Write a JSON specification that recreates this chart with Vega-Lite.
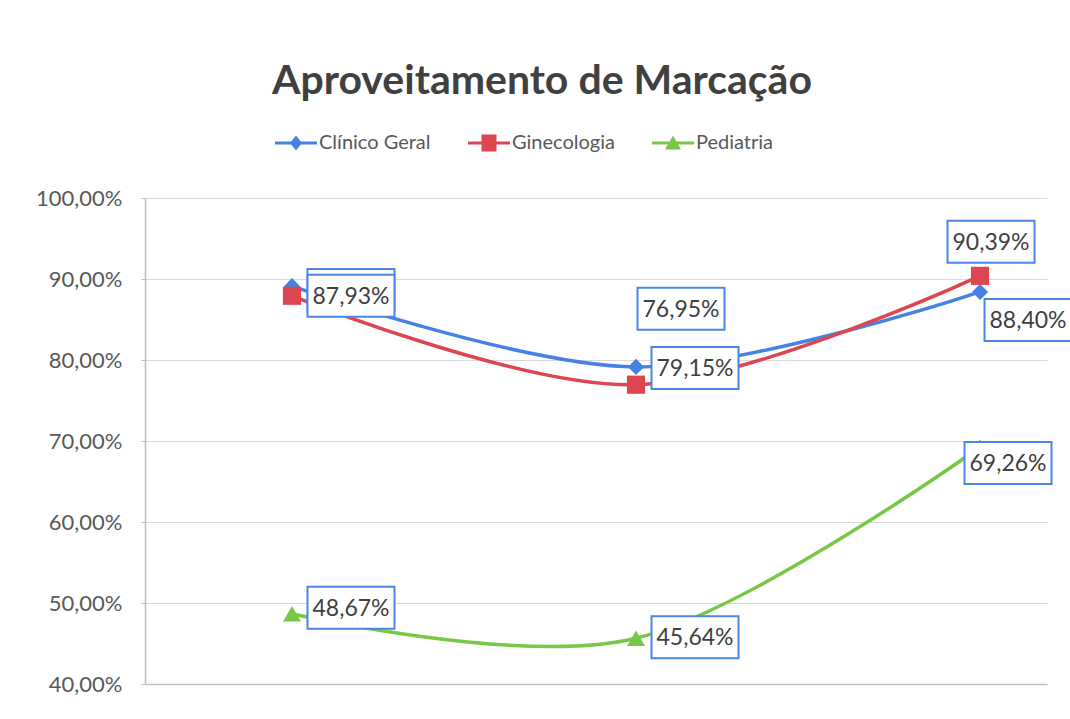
{
  "$schema": "https://vega.github.io/schema/vega-lite/v6.json",
  "autosize": {"type": "none"},
  "width": 902,
  "height": 486,
  "padding": {"left": 145, "top": 198, "right": 23, "bottom": 35},
  "background": "white",
  "title": {
    "text": "Aproveitamento de Marcação",
    "font": "Lato",
    "fontSize": 41,
    "fontWeight": "bold",
    "color": "#404040",
    "anchor": "middle",
    "baseline": "alphabetic",
    "dx": -54,
    "offset": -2
  },
  "config": {
    "locale": {
      "number": {"decimal": ",", "thousands": ".", "grouping": [3], "currency": ["R$", ""]}
    },
    "view": {"stroke": null},
    "font": "Lato"
  },
  "data": {
    "values": [
      {"periodo": "1º", "serie": "Clínico Geral", "valor": 0.8912},
      {"periodo": "2º", "serie": "Clínico Geral", "valor": 0.7915},
      {"periodo": "3º", "serie": "Clínico Geral", "valor": 0.8840},
      {"periodo": "1º", "serie": "Ginecologia", "valor": 0.8793},
      {"periodo": "2º", "serie": "Ginecologia", "valor": 0.7695},
      {"periodo": "3º", "serie": "Ginecologia", "valor": 0.9039},
      {"periodo": "1º", "serie": "Pediatria", "valor": 0.4867},
      {"periodo": "2º", "serie": "Pediatria", "valor": 0.4564},
      {"periodo": "3º", "serie": "Pediatria", "valor": 0.6926}
    ]
  },
  "encoding": {
    "x": {
      "field": "periodo",
      "type": "ordinal",
      "scale": {"type": "point", "padding": 0.311, "align": 0.687},
      "axis": {
        "title": null,
        "labels": false,
        "ticks": false,
        "grid": false,
        "domainColor": "#bfbfbf",
        "domainWidth": 1.5
      }
    },
    "y": {
      "field": "valor",
      "type": "quantitative",
      "scale": {"domain": [0.4, 1.0], "nice": false, "zero": false},
      "axis": {
        "title": null,
        "values": [0.4, 0.5, 0.6, 0.7, 0.8, 0.9, 1.0],
        "format": ".2%",
        "labelFont": "Lato",
        "labelFontSize": 22,
        "labelColor": "#595959",
        "labelPadding": 19,
        "tickSize": 4,
        "tickColor": "#bfbfbf",
        "domainColor": "#bfbfbf",
        "domainWidth": 1.5,
        "gridColor": "#d9d9d9",
        "gridWidth": 1.2
      }
    }
  },
  "layer": [
    {
      "mark": {"type": "line", "interpolate": "cardinal", "strokeWidth": 3.5},
      "encoding": {
        "color": {
          "field": "serie",
          "type": "nominal",
          "scale": {
            "domain": ["Clínico Geral", "Ginecologia", "Pediatria"],
            "range": ["#4682e6", "#db4650", "#78c846"]
          },
          "legend": {
            "title": null,
            "orient": "none",
            "direction": "horizontal",
            "legendX": 130,
            "legendY": -65,
            "padding": 0,
            "symbolSize": 400,
            "symbolOffset": 11,
            "labelOffset": 13,
            "columnPadding": 37,
            "labelFont": "Lato",
            "labelFontSize": 20,
            "labelColor": "#595959",
            "encode": {
              "symbols": {
                "update": {
                  "shape": {"signal": "datum.value === 'Clínico Geral' ? 'M-2.1,-0.16H2.1V0.16H-2.1Z M0,-0.75L0.6,0L0,0.75L-0.6,0Z' : datum.value === 'Ginecologia' ? 'M-2.1,-0.16H2.1V0.16H-2.1Z M-0.75,-0.85H0.75V0.85H-0.75Z' : 'M-2.1,-0.16H2.1V0.16H-2.1Z M0,-0.75L0.8,0.65H-0.8Z'"},
                  "fill": {"signal": "scale('color', datum.value)"},
                  "fillOpacity": {"value": 1},
                  "strokeWidth": {"value": 0}
                }
              }
            }
          }
        }
      }
    },
    {
      "mark": {
        "type": "point",
        "filled": true,
        "opacity": 1,
        "shape": {"expr": "datum.serie === 'Clínico Geral' ? 'diamond' : datum.serie === 'Ginecologia' ? 'square' : 'triangle-up'"},
        "size": {"expr": "datum.serie === 'Clínico Geral' ? 260 : datum.serie === 'Ginecologia' ? 330 : 320"}
      },
      "encoding": {
        "color": {"field": "serie", "type": "nominal", "legend": null}
      }
    },
    {
      "transform": [{"filter": "datum.serie === 'Clínico Geral'"}],
      "mark": {
        "type": "point",
        "shape": "M-1,-0.483H1V0.483H-1Z",
        "size": 7569,
        "filled": false,
        "fill": "white",
        "fillOpacity": 1,
        "stroke": "#4a86e8",
        "strokeWidth": 2,
        "opacity": 1,
        "xOffset": {"expr": "datum.periodo === '3º' ? 48 : 59"},
        "yOffset": {"expr": "datum.periodo === '1º' ? 4 : datum.periodo === '2º' ? 1 : 28"}
      },
      "encoding": {}
    },
    {
      "transform": [{"filter": "datum.serie === 'Clínico Geral' && datum.periodo !== '1º'"}],
      "mark": {
        "type": "text",
        "font": "Lato",
        "fontSize": 23,
        "color": "#404040",
        "align": "center",
        "baseline": "middle",
        "xOffset": {"expr": "datum.periodo === '3º' ? 48 : 59"},
        "yOffset": {"expr": "datum.periodo === '2º' ? 2 : 29"}
      },
      "encoding": {"text": {"field": "valor", "type": "quantitative", "format": ".2%"}}
    },
    {
      "transform": [{"filter": "datum.serie === 'Ginecologia'"}],
      "mark": {
        "type": "point",
        "shape": "M-1,-0.483H1V0.483H-1Z",
        "size": 7569,
        "filled": false,
        "fill": "white",
        "fillOpacity": 1,
        "stroke": "#4a86e8",
        "strokeWidth": 2,
        "opacity": 1,
        "xOffset": {"expr": "datum.periodo === '1º' ? 59 : datum.periodo === '2º' ? 45 : 11"},
        "yOffset": {"expr": "datum.periodo === '1º' ? 0 : datum.periodo === '2º' ? -76 : -34"}
      },
      "encoding": {}
    },
    {
      "transform": [{"filter": "datum.serie === 'Ginecologia'"}],
      "mark": {
        "type": "text",
        "font": "Lato",
        "fontSize": 23,
        "color": "#404040",
        "align": "center",
        "baseline": "middle",
        "xOffset": {"expr": "datum.periodo === '1º' ? 59 : datum.periodo === '2º' ? 45 : 11"},
        "yOffset": {"expr": "datum.periodo === '1º' ? 1 : datum.periodo === '2º' ? -75 : -33"}
      },
      "encoding": {"text": {"field": "valor", "type": "quantitative", "format": ".2%"}}
    },
    {
      "transform": [{"filter": "datum.serie === 'Pediatria'"}],
      "mark": {
        "type": "point",
        "shape": "M-1,-0.483H1V0.483H-1Z",
        "size": 7569,
        "filled": false,
        "fill": "white",
        "fillOpacity": 1,
        "stroke": "#4a86e8",
        "strokeWidth": 2,
        "opacity": 1,
        "xOffset": {"expr": "datum.periodo === '3º' ? 28 : 59"},
        "yOffset": {"expr": "datum.periodo === '1º' ? -6 : datum.periodo === '2º' ? -1 : 16"}
      },
      "encoding": {}
    },
    {
      "transform": [{"filter": "datum.serie === 'Pediatria'"}],
      "mark": {
        "type": "text",
        "font": "Lato",
        "fontSize": 23,
        "color": "#404040",
        "align": "center",
        "baseline": "middle",
        "xOffset": {"expr": "datum.periodo === '3º' ? 28 : 59"},
        "yOffset": {"expr": "datum.periodo === '1º' ? -5 : datum.periodo === '2º' ? 0 : 17"}
      },
      "encoding": {"text": {"field": "valor", "type": "quantitative", "format": ".2%"}}
    }
  ]
}
